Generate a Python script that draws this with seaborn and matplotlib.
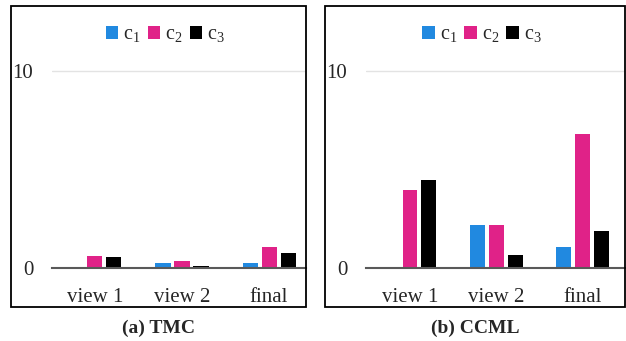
import matplotlib
matplotlib.use("Agg")
import matplotlib.pyplot as plt
from matplotlib.patches import Rectangle
import pandas as pd
import seaborn as sns

# Per-view scores for each of the three classes
views = ["view 1", "view 2", "final"]
series = ["c1", "c2", "c3"]
series_labels = [r"c$_\mathrm{1}$", r"c$_\mathrm{2}$", r"c$_\mathrm{3}$"]

tmc_c1 = [0.0, 0.27, 0.27]
tmc_c2 = [0.62, 0.35, 1.06]
tmc_c3 = [0.59, 0.13, 0.77]

ccml_c1 = [0.03, 2.21, 1.08]
ccml_c2 = [3.98, 2.21, 6.81]
ccml_c3 = [4.45, 0.69, 1.90]

y_ticks = [0, 10]
captions = ["(a) TMC", "(b) CCML"]
colors = ["#2189E0", "#E02288", "#000000"]

sns.set_theme(style="white")
plt.rcParams["font.family"] = ["Liberation Serif", "DejaVu Serif"]
plt.rcParams["mathtext.fontset"] = "custom"
plt.rcParams["mathtext.rm"] = "Liberation Serif"
plt.rcParams["mathtext.it"] = "Liberation Serif"


def to_frame(c1, c2, c3):
    rows = []
    for name, vals in zip(series, (c1, c2, c3)):
        for v, val in zip(views, vals):
            rows.append({"view": v, "cls": name, "value": val})
    return pd.DataFrame(rows)


W, H = 626, 341
fig = plt.figure(figsize=(W / 100, H / 100), dpi=100)

# panel geometry in pixels: (box_left, box_right, axes_left, axes_right, xlim)
panels = [
    (11, 306, 52, 306, (-0.494, 2.425)),
    (325, 625, 366, 625, (-0.51, 2.49)),
]
y_zero, y_top, box_top, box_bottom = 268.3, 6, 6, 307
ymax = (y_zero - y_top) / 19.76

frames = [to_frame(tmc_c1, tmc_c2, tmc_c3), to_frame(ccml_c1, ccml_c2, ccml_c3)]

for (bl, br, al, ar, xl), df, cap in zip(panels, frames, captions):
    ax = fig.add_axes([al / W, (H - y_zero) / H, (ar - al) / W, (y_zero - y_top) / H])
    sns.barplot(data=df, x="view", y="value", hue="cls", order=views,
                hue_order=series, palette=colors, width=0.655, gap=0.21,
                linewidth=0, saturation=1, ax=ax)
    ax.set_xlim(*xl)
    ax.set_ylim(0, ymax)
    ax.set_yticks(y_ticks)
    ax.set_yticklabels([str(t) for t in y_ticks])
    ax.axhline(10, color="#e3e3e3", lw=1.0, zorder=0)
    for s in ["top", "right", "left"]:
        ax.spines[s].set_visible(False)
    ax.spines["bottom"].set_color("#595959")
    ax.spines["bottom"].set_linewidth(1.5)
    ax.spines["bottom"].set_zorder(5)
    ax.tick_params(axis="y", length=0, pad=13.5, labelsize=15)
    ax.tick_params(axis="x", length=0, pad=14, labelsize=15)
    ax.set_xlabel("")
    ax.set_ylabel("")
    ax.patch.set_alpha(0)

    handles = ax.get_legend().legend_handles
    ax.get_legend().remove()
    cx = (bl + br) / 2 + 7
    fig.legend(handles, series_labels, loc="center",
               bbox_to_anchor=(cx / W, (H - 35) / H), ncol=3, frameon=False,
               fontsize=14.5, handlelength=0.62, handleheight=0.62,
               handletextpad=0.25, columnspacing=0.35, borderaxespad=0)

    fig.patches.append(Rectangle((bl / W, (H - box_bottom) / H),
                                 (br - bl) / W, (box_bottom - box_top) / H,
                                 transform=fig.transFigure, fill=False,
                                 edgecolor="black", linewidth=1.3, zorder=10))
    fig.text((bl + br) / 2 / W, (H - 328) / H, cap, ha="center", va="center",
             fontsize=14, fontweight="bold")

fig.savefig("out.png", dpi=100, facecolor="white")
